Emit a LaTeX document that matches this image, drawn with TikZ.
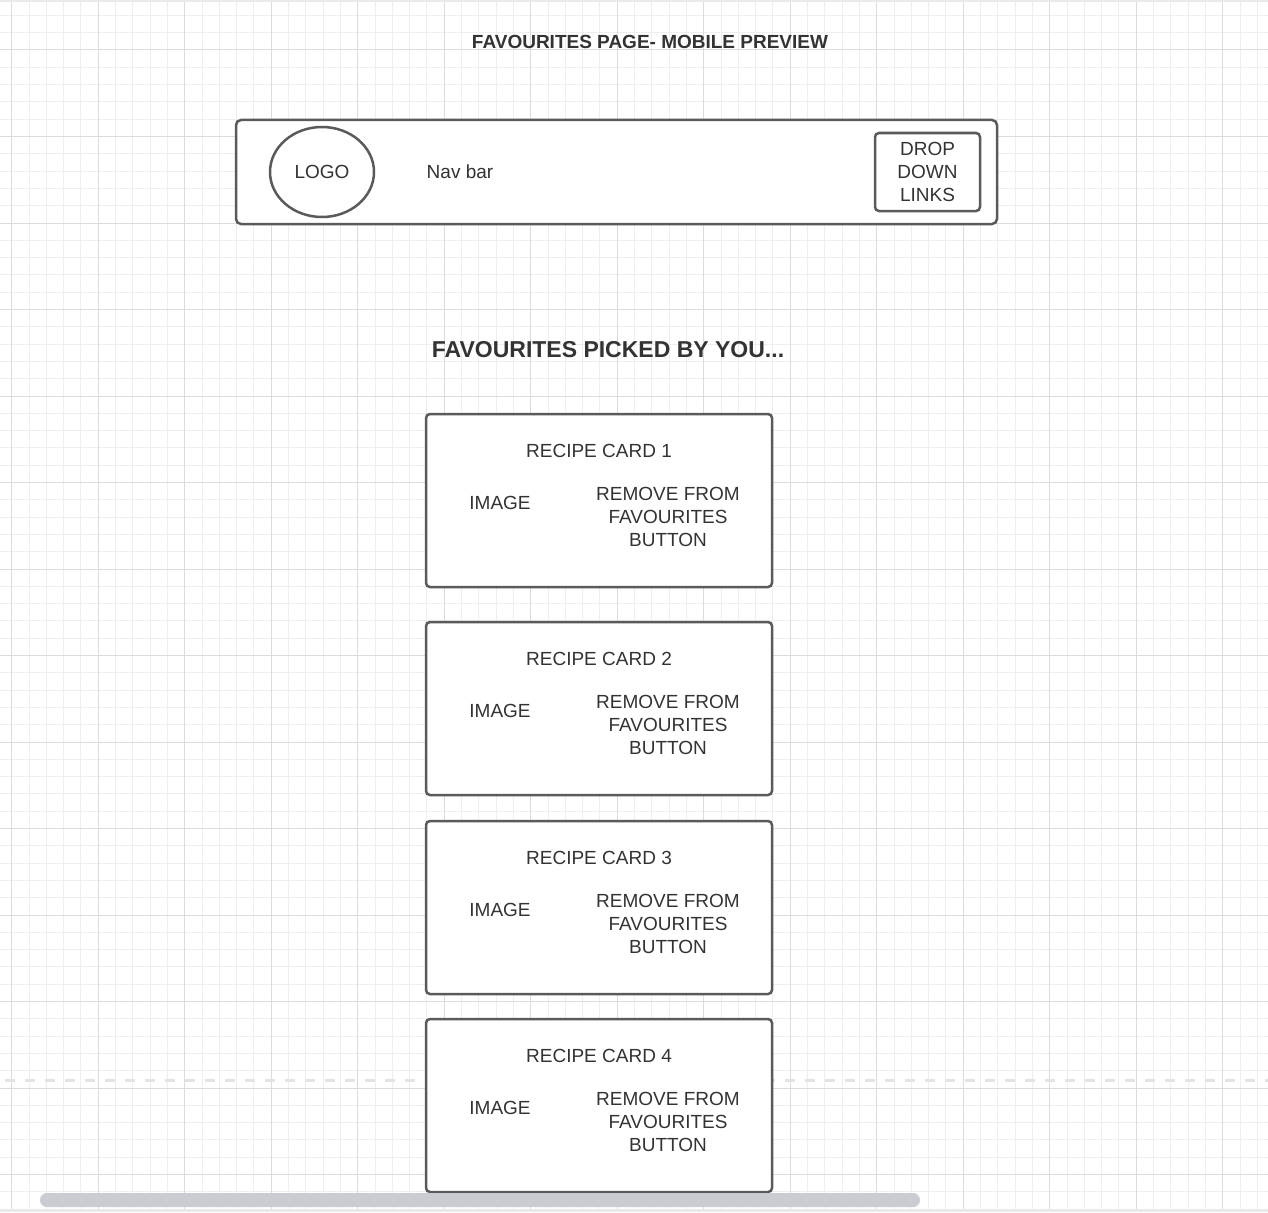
\documentclass[tikz,border=0pt]{standalone}
\usepackage{fontspec}
\setmainfont{Liberation Sans}
\usetikzlibrary{shapes.geometric}

\definecolor{inkgray}{HTML}{5A5A5A}
\definecolor{txtgray}{HTML}{333333}
\definecolor{minorgrid}{HTML}{EEEEEE}
\definecolor{majorgrid}{HTML}{DCDCDC}
\definecolor{scrollgray}{HTML}{C9CCD1}

\tikzset{
  frame/.style={draw=inkgray, line width=2.5pt, rounded corners=5pt, fill=white, inner sep=0pt},
  txt/.style={text=txtgray, font=\fontsize{19}{23}\selectfont, align=center, inner sep=0pt},
  headtxt/.style={text=txtgray, font=\bfseries\fontsize{19}{23}\selectfont, inner sep=0pt},
  bigheadtxt/.style={text=txtgray, font=\bfseries\fontsize{23}{27}\selectfont, inner sep=0pt},
  minorline/.style={draw=minorgrid, line width=1pt},
  majorline/.style={draw=majorgrid, line width=1pt}
}

\begin{document}
\begin{tikzpicture}[x=1pt, y=-1pt]
    \useasboundingbox (0,0) rectangle (1268,1212);
    \fill[white] (0,0) rectangle (1268,1212);

    % grid
    \begin{scope}
        \clip (0,0) rectangle (1268,1212);
        \foreach \i in {0,...,73}
        \draw[minorline] ({-5.6+17.3*\i},0) -- ++(0,1212);
        \foreach \i in {0,...,70}
        \draw[minorline] (0,{-1.9+17.3*\i}) -- ++(1268,0);
        \foreach \i in {0,...,14}
        \draw[majorline] ({11.7+86.5*\i},0) -- ++(0,1212);
        \foreach \i in {0,...,14}
        \draw[majorline] (0,{-36.5+86.5*\i}) -- ++(1268,0);
        \fill[majorgrid!60] (0,0) rectangle (1268,2);
        \fill[majorgrid!60] (0,1209) rectangle (1268,1212);
    \end{scope}

    % page break line
    \draw[majorgrid!80, line width=3pt, dash pattern=on 10pt off 10pt] (5,1080) -- (1268,1080);

    % titles
    \node[headtxt] (pagetitle) at (650,42) {FAVOURITES PAGE- MOBILE PREVIEW};
    \node[bigheadtxt] (favhead) at (608,350) {FAVOURITES PICKED BY YOU...};

    % nav bar
    \node[frame, minimum width=761pt, minimum height=104pt] (navbar) at (616.5,172) {};
    \node[ellipse, draw=inkgray, line width=2.5pt, fill=white, minimum width=104pt, minimum height=90pt, inner sep=0pt] (logo) at (322,172) {};
    \node[txt] (logotxt) at (logo.center) {LOGO};
    \node[txt] (navtxt) at (460,172) {Nav bar};
    \node[frame, rounded corners=4pt, minimum width=105pt, minimum height=78pt] (dropdown) at (927.5,172) {};
    \node[txt] (droptxt) at (dropdown.center) {DROP\\DOWN\\LINKS};

    % recipe cards
    \foreach \n/\y in {1/414, 2/622, 3/821, 4/1019} {
        \node[frame, rounded corners=4pt, minimum width=346pt, minimum height=173pt] (card\n) at (599,\y+86.5) {};
        \node[txt] (cardtitle\n) at (599,\y+37) {RECIPE CARD \n};
        \node[txt] (image\n) at (500,\y+89) {IMAGE};
        \node[txt] (remove\n) at (668,\y+103) {REMOVE FROM\\FAVOURITES\\BUTTON};
    }

    % scrollbar
    \fill[scrollgray, rounded corners=7pt] (40,1193) rectangle (920,1207);
\end{tikzpicture}
\end{document}
